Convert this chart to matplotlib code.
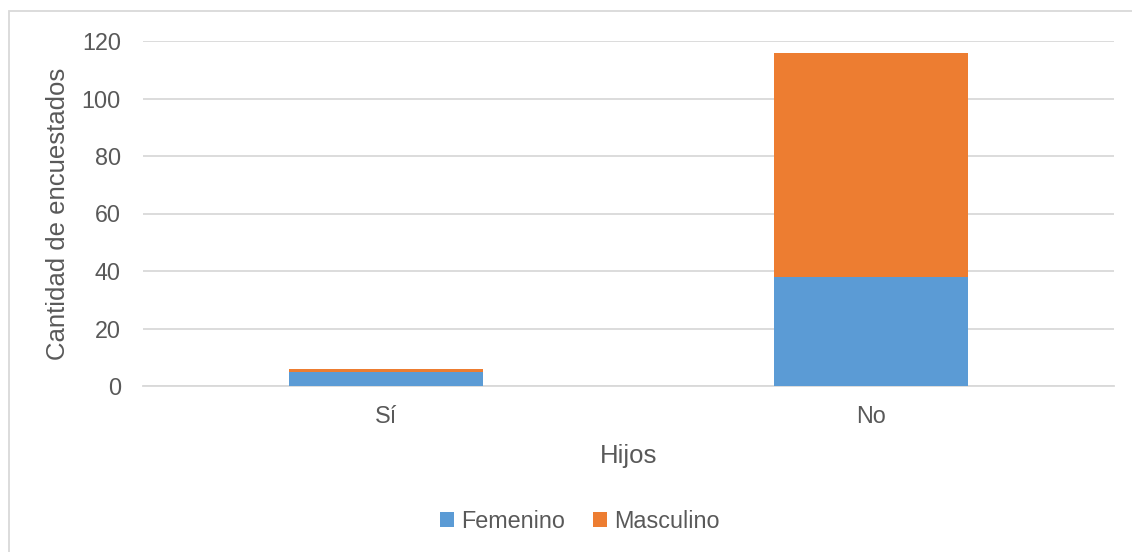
import numpy as np
import matplotlib.pyplot as plt
from matplotlib.patches import Rectangle

plt.rcParams['font.family'] = ['Liberation Sans', 'DejaVu Sans']

categories = ["Sí", "No"]
femenino = [5, 38]
masculino = [1, 78]
y_ticks = [0, 20, 40, 60, 80, 100, 120]

text_color = "#595959"
grid_color = "#D9D9D9"

fig = plt.figure(figsize=(11.32, 5.52), dpi=100)
ax = fig.add_axes([143 / 1132, 1 - 386 / 552, (1114 - 143) / 1132, (386 - 41) / 552])

x = np.arange(len(categories))
ax.bar(x, femenino, width=0.4, color="#5B9BD5", label="Femenino", zorder=3)
ax.bar(x, masculino, width=0.4, bottom=femenino, color="#ED7D31", label="Masculino", zorder=3)

ax.set_xlim(-0.5, 1.5)
ax.set_ylim(0, 120)
ax.set_yticks(y_ticks)
ax.set_xticks(x)
ax.set_xticklabels(categories)
ax.yaxis.grid(True, color=grid_color, linewidth=1.3, zorder=0)
ax.tick_params(axis="both", length=0, labelsize=16.8, labelcolor=text_color)
ax.tick_params(axis="y", pad=16)
ax.tick_params(axis="x", pad=14)
for side in ["top", "right", "left"]:
    ax.spines[side].set_visible(False)
ax.spines["bottom"].set_color(grid_color)
ax.spines["bottom"].set_linewidth(1.3)

ax.set_ylabel("Cantidad de encuestados", fontsize=18.5, color=text_color, labelpad=8)
ax.set_xlabel("Hijos", fontsize=18.5, color=text_color, labelpad=11)

fig.legend(loc="center", bbox_to_anchor=(0.512, 0.056), ncol=2, frameon=False,
           fontsize=16.8, labelcolor=text_color, handlelength=0.6, handleheight=0.6,
           handletextpad=0.3, columnspacing=1.2)

# light border around the chart area
fig.patches.append(Rectangle((9 / 1132, -0.01), 1.0, 1 - 11 / 552 + 0.01,
                             transform=fig.transFigure, fill=False,
                             edgecolor=grid_color, linewidth=1.3))

fig.savefig("out.png", dpi=100)
